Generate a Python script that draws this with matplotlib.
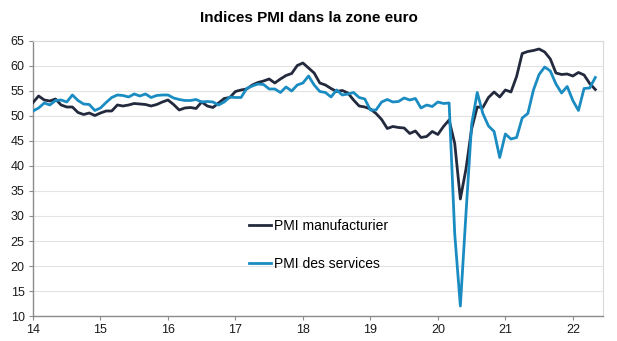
import matplotlib
matplotlib.use("Agg")
import matplotlib.pyplot as plt
import numpy as np

plt.rcParams['font.family'] = ['Liberation Sans', 'DejaVu Sans']

# Monthly data, Dec 2013 .. Apr 2022 (plotted from 14.0 onward)
manuf = [52.7,
         54.0, 53.2, 53.0, 53.4, 52.2, 51.8, 51.8, 50.7, 50.3, 50.6, 50.1, 50.6,
         51.0, 51.0, 52.2, 52.0, 52.2, 52.5, 52.4, 52.3, 52.0, 52.3, 52.8, 53.2,
         52.3, 51.2, 51.6, 51.7, 51.5, 52.8, 52.0, 51.7, 52.6, 53.5, 53.7, 54.9,
         55.2, 55.4, 56.2, 56.7, 57.0, 57.4, 56.6, 57.4, 58.1, 58.5, 60.1, 60.6,
         59.6, 58.6, 56.6, 56.2, 55.5, 54.9, 55.1, 54.6, 53.2, 52.0, 51.8, 51.4,
         50.5, 49.3, 47.5, 47.9, 47.7, 47.6, 46.5, 47.0, 45.7, 45.9, 46.9, 46.3,
         47.9, 49.2, 44.5, 33.4, 39.4, 47.4, 51.8, 51.7, 53.7, 54.8, 53.8, 55.2,
         54.8, 57.9, 62.5, 62.9, 63.1, 63.4, 62.8, 61.4, 58.6, 58.3, 58.4, 58.0,
         58.7, 58.2, 56.5, 55.3]
services = [51.0,
            51.6, 52.6, 52.2, 53.1, 53.2, 52.8, 54.2, 53.1, 52.4, 52.3, 51.1, 51.6,
            52.7, 53.7, 54.2, 54.1, 53.8, 54.4, 54.0, 54.4, 53.7, 54.1, 54.2, 54.2,
            53.6, 53.3, 53.1, 53.1, 53.3, 52.8, 52.9, 52.8, 52.2, 52.8, 53.8, 53.7,
            53.7, 55.5, 56.0, 56.4, 56.3, 55.4, 55.4, 54.7, 55.8, 55.0, 56.2, 56.6,
            58.0, 56.2, 54.9, 54.7, 53.8, 55.2, 54.2, 54.4, 54.7, 53.7, 53.4, 51.2,
            51.2, 52.8, 53.3, 52.8, 52.9, 53.6, 53.2, 53.5, 51.6, 52.2, 51.9, 52.8,
            52.5, 52.6, 26.4, 12.0, 30.5, 48.3, 54.7, 50.5, 48.0, 46.9, 41.7, 46.4,
            45.4, 45.7, 49.6, 50.5, 55.2, 58.3, 59.8, 59.0, 56.4, 54.6, 55.9, 53.1,
            51.1, 55.5, 55.6, 57.7]
year_ticks = [14, 15, 16, 17, 18, 19, 20, 21, 22]
labels = ["PMI manufacturier", "PMI des services"]
title = "Indices PMI dans la zone euro"

x = 14 + np.arange(len(manuf)) / 12.0

fig = plt.figure(figsize=(6.17, 3.41), dpi=100)
ax = fig.add_axes([0.0535, 0.0733, 0.9235, 0.8065])

ax.plot(x, manuf, color='#232a3d', lw=2.0, label=labels[0], zorder=3)
ax.plot(x, services, color='#1a8cc2', lw=2.0, label=labels[1], zorder=3)

ax.set_xlim(14, 22 + 30 / 67.5)
ax.set_ylim(10, 65)
ax.set_yticks(np.arange(10, 66, 5))
ax.set_xticks(year_ticks)
ax.set_xticklabels([str(t) for t in year_ticks])
ax.grid(axis='y', color='#e3e3e3', lw=0.8)
ax.set_axisbelow(True)
for s in ['top', 'right']:
    ax.spines[s].set_color('#d9d9d9')
    ax.spines[s].set_linewidth(0.8)
for s in ['left', 'bottom']:
    ax.spines[s].set_color('#8c8c8c')
    ax.spines[s].set_linewidth(1.0)
ax.tick_params(axis='both', labelsize=9, colors='#8c8c8c', labelcolor='#1a1a1a',
               direction='out', length=3, width=0.8, pad=3)

fig.text(0.5, 0.947, title, ha='center', va='center', fontsize=11, fontweight='bold')

leg = ax.legend(loc='upper left', bbox_to_anchor=(249 / 617, 1 - 219 / 341),
                bbox_transform=fig.transFigure, frameon=False, fontsize=10,
                handlelength=1.6, handletextpad=0.2, labelspacing=1.75,
                borderaxespad=0, borderpad=0)

fig.savefig('out.png', dpi=100)
